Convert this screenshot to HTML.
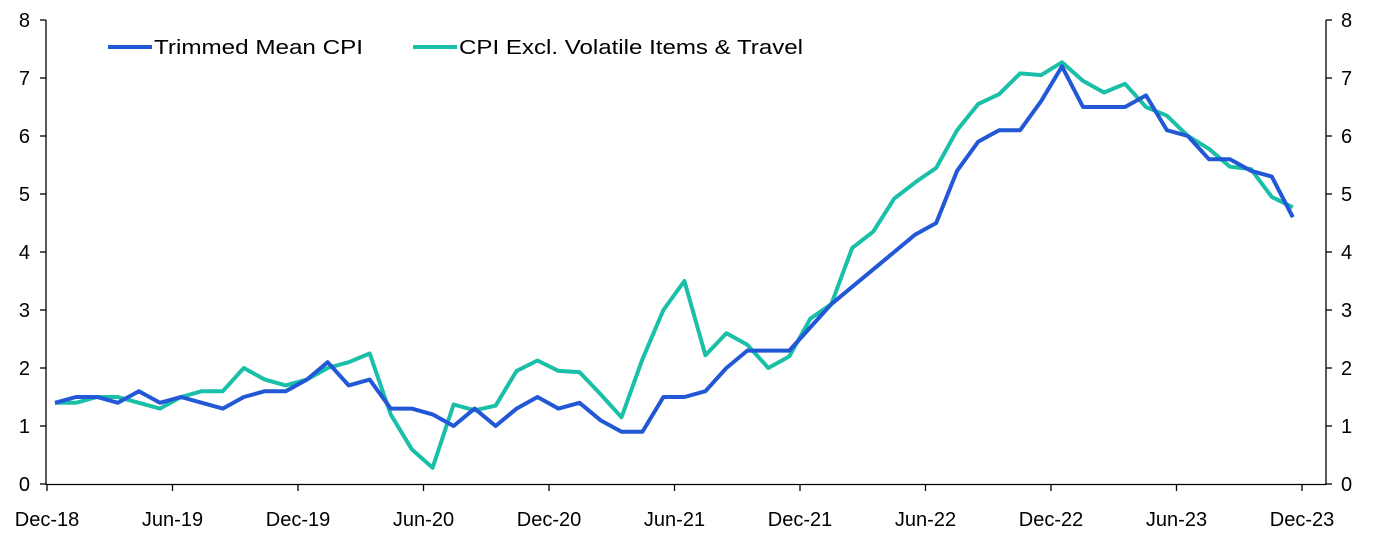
<!DOCTYPE html>
<html><head><meta charset="utf-8"><style>
html,body{margin:0;padding:0;background:#fff;}
svg{display:block;font-family:"Liberation Sans",sans-serif;font-size:20px;fill:#000;}
</style></head><body>
<svg width="1374" height="542" viewBox="0 0 1374 542" xmlns="http://www.w3.org/2000/svg">
<g stroke="#000" stroke-width="1.3" fill="none">
<line x1="46" y1="20" x2="46" y2="485"/>
<line x1="1326" y1="20" x2="1326" y2="485"/>
<line x1="46" y1="484.5" x2="1326" y2="484.5"/>
</g>
<g id="ticks" stroke="#000" stroke-width="1.3"></g>
<g id="labels"></g>
<polyline id="teal" fill="none" stroke="#19bfa6" stroke-width="4" stroke-linejoin="round"/>
<polyline id="blue" fill="none" stroke="#2257d6" stroke-width="4" stroke-linejoin="round"/>
<line x1="108" y1="47" x2="152" y2="47" stroke="#2257d6" stroke-width="4"/>
<text x="154" y="54" textLength="209" lengthAdjust="spacingAndGlyphs">Trimmed Mean CPI</text>
<line x1="413" y1="47" x2="457" y2="47" stroke="#19bfa6" stroke-width="4"/>
<text x="459" y="54" textLength="344" lengthAdjust="spacingAndGlyphs">CPI Excl. Volatile Items &amp; Travel</text>
</svg>
<script>
const ns="http://www.w3.org/2000/svg";
const y0=484,k=58;
const blue=[1.4,1.5,1.5,1.4,1.6,1.4,1.5,1.4,1.3,1.5,1.6,1.6,1.8,2.1,1.7,1.8,1.3,1.3,1.2,1.0,1.3,1.0,1.3,1.5,1.3,1.4,1.1,0.9,0.9,1.5,1.5,1.6,2.0,2.3,2.3,2.3,2.7,3.1,3.4,3.7,4.0,4.3,4.5,5.4,5.9,6.1,6.1,6.6,7.2,6.5,6.5,6.5,6.7,6.1,6.0,5.6,5.6,5.4,5.3,4.6];
const teal=[1.4,1.4,1.5,1.5,1.4,1.3,1.5,1.6,1.6,2.0,1.8,1.7,1.8,2.0,2.1,2.25,1.2,0.6,0.28,1.37,1.27,1.35,1.95,2.13,1.95,1.93,1.55,1.15,2.15,3.0,3.5,2.22,2.6,2.4,2.0,2.2,2.85,3.1,4.07,4.35,4.92,5.2,5.45,6.1,6.55,6.72,7.08,7.05,7.27,6.95,6.75,6.9,6.5,6.35,6.0,5.78,5.47,5.43,4.95,4.77];
const px=i=>55+20.98*i;
const pts=a=>a.map((v,i)=>px(i).toFixed(1)+","+(y0-v*k).toFixed(1)).join(" ");
document.getElementById("blue").setAttribute("points",pts(blue));
document.getElementById("teal").setAttribute("points",pts(teal));
const T=document.getElementById("ticks"),L=document.getElementById("labels");
function el(t,a,p,txt){const e=document.createElementNS(ns,t);for(const x in a)e.setAttribute(x,a[x]);if(txt!=null)e.textContent=txt;p.appendChild(e);}
for(let v=0;v<=8;v++){const y=y0-v*k;
el("line",{x1:40,x2:46,y1:y,y2:y},T);el("line",{x1:1326,x2:1332,y1:y,y2:y},T);
el("text",{x:30,y:y+7,"text-anchor":"end"},L,String(v));
el("text",{x:1341,y:y+7},L,String(v));}
const labs=["Dec-18","Jun-19","Dec-19","Jun-20","Dec-20","Jun-21","Dec-21","Jun-22","Dec-22","Jun-23","Dec-23"];
labs.forEach((s,i)=>{const x=47+125.5*i;el("line",{x1:x,x2:x,y1:484,y2:491},T);
el("text",{x:x,y:526,"text-anchor":"middle"},L,s);});
</script>
</body></html>
